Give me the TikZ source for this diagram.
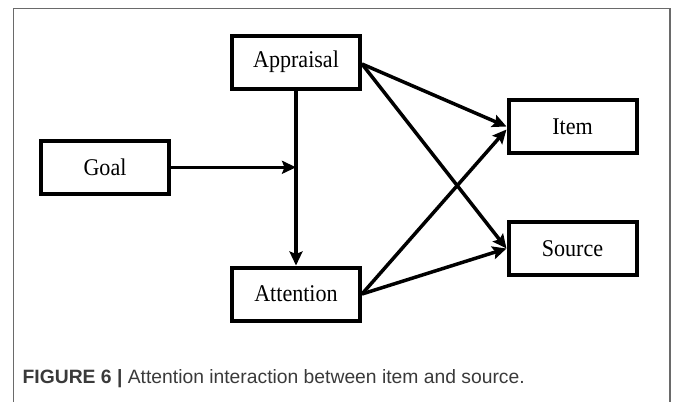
\documentclass[tikz,border=0pt]{standalone}
\usepackage{fontspec}
\setmainfont{Liberation Serif}
\newfontfamily\boxfont[FakeStretch=0.92]{Liberation Serif}
\newfontfamily\captionfont{Liberation Sans}
\usetikzlibrary{arrows.meta}

\definecolor{framegray}{HTML}{6A6A6A}
\definecolor{captext}{HTML}{3A3A3A}

\tikzset{
  blockbox/.style={draw=black, line width=4pt, fill=white,
    minimum width=128pt, minimum height=53pt, inner sep=0pt,
    font=\boxfont\fontsize{24}{28}\selectfont},
  link/.style={line width=3.5pt, -{Stealth[length=14pt,width=13pt,inset=2.5pt]}},
  outline/.style={draw=framegray, line width=1.2pt},
}

\begin{document}
\begin{tikzpicture}[x=1pt, y=-1pt]
  \useasboundingbox (0,0) rectangle (673,402);

  % panel outline (open at the bottom)
  \draw[outline] (13.3,402) -- (13.3,8.7) -- (670,8.7) -- (670,402);

  % blocks
  \node[blockbox] (app)  at (296,62)    {Appraisal};
  \node[blockbox] (goal) at (105,167.3) {Goal};
  \node[blockbox] (att)  at (296,294)   {Attention};
  \node[blockbox] (item) at (572.5,126.5) {Item};
  \node[blockbox] (src)  at (572.5,248.5) {Source};

  % connectors
  \draw[link] (app.south) -- (att.north);
  \coordinate (join) at (goal.east -| app.south);
  \draw[link] (goal.east) -- (join);
  \draw[link] ([yshift=-2pt]app.east) -- (item.west);
  \draw[link] ([yshift=-2pt]app.east) -- (src.west);
  \draw[link] (att.east) -- ([yshift=-3pt]item.west);
  \draw[link] (att.east) -- (src.west);

  % caption
  \node[anchor=base west, inner sep=0pt, text=captext,
        font=\captionfont\fontsize{19.3}{23}\selectfont] (cap) at (22.5,383)
    {\textbf{FIGURE 6 |} Attention interaction between item and source.};
\end{tikzpicture}
\end{document}
